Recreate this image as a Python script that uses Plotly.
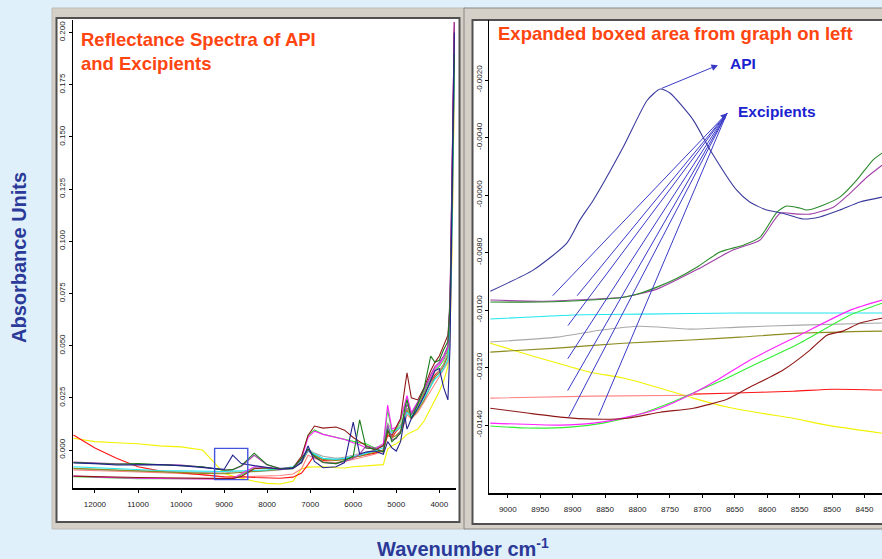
import plotly.graph_objects as go

# ---------------- Left panel data (full spectra) ----------------
left_x = [12500, 12000, 11500, 11000, 10500, 10000, 9500, 9000, 8800, 8600, 8300, 8000,
          7700, 7400, 7200, 7050, 6900, 6700, 6400, 6200, 6000, 5850, 5700, 5500, 5300,
          5200, 5100, 5000, 4900, 4800, 4750, 4650, 4500, 4350, 4200, 4100, 4000, 3900,
          3800, 3750, 3700, 3650]

l_navy = [-0.0062, -0.0065, -0.0072, -0.0072, -0.0070, -0.0075, -0.0085, -0.0093, -0.0025, -0.0065,
          -0.0075, -0.0085, -0.0092, -0.0088, -0.0060, 0.0020, -0.0055, -0.0085, -0.0080, -0.0060,
          0.0134, -0.0020, -0.0010, -0.0005, -0.0020, 0.0040, 0.0010, -0.0005, 0.0040, 0.0160,
          0.0100, 0.0150, 0.0200, 0.0260, 0.0330, 0.0380, 0.0390, 0.0300, 0.0240, 0.0500, 0.1300, 0.2000]
l_dgreen = [-0.0060, -0.0065, -0.0068, -0.0065, -0.0070, -0.0072, -0.0080, -0.0097, -0.0094, -0.0075,
            -0.0015, -0.0070, -0.0090, -0.0085, -0.0040, 0.0005, -0.0030, -0.0060, -0.0065, -0.0050,
            -0.0030, 0.0144, 0.0010, 0.0005, -0.0010, 0.0100, 0.0040, 0.0060, 0.0080, 0.0200,
            0.0240, 0.0150, 0.0220, 0.0300, 0.0450, 0.0420, 0.0430, 0.0480, 0.0520, 0.0700, 0.1200, 0.1900]
l_purple = [-0.0058, -0.0063, -0.0066, -0.0068, -0.0070, -0.0072, -0.0082, -0.0096, -0.0094, -0.0078,
            -0.0025, -0.0072, -0.0088, -0.0085, -0.0045, 0.0000, -0.0035, -0.0060, -0.0065, -0.0055,
            -0.0040, -0.0020, 0.0020, 0.0010, -0.0010, 0.0120, 0.0050, 0.0055, 0.0090, 0.0180,
            0.0220, 0.0170, 0.0230, 0.0290, 0.0360, 0.0400, 0.0420, 0.0450, 0.0500, 0.0750, 0.1400, 0.2050]
l_cyan = [-0.0080, -0.0085, -0.0090, -0.0095, -0.0098, -0.0100, -0.0102, -0.0103, -0.0101, -0.0101,
          -0.0098, -0.0095, -0.0090, -0.0080, -0.0050, -0.0005, -0.0020, -0.0040, -0.0045, -0.0040,
          -0.0030, -0.0025, -0.0015, -0.0005, 0.0010, 0.0110, 0.0080, 0.0095, 0.0110, 0.0150,
          0.0180, 0.0160, 0.0200, 0.0250, 0.0300, 0.0340, 0.0360, 0.0390, 0.0430, 0.0600, 0.1100, 0.1850]
l_gray = [-0.0090, -0.0095, -0.0098, -0.0100, -0.0102, -0.0105, -0.0108, -0.0110, -0.0105, -0.0106,
          -0.0104, -0.0100, -0.0095, -0.0085, -0.0055, 0.0005, -0.0015, -0.0030, -0.0040, -0.0035,
          -0.0025, -0.0020, -0.0010, 0.0000, 0.0020, 0.0130, 0.0090, 0.0100, 0.0120, 0.0170,
          0.0200, 0.0170, 0.0210, 0.0260, 0.0320, 0.0350, 0.0380, 0.0410, 0.0460, 0.0650, 0.1250, 0.1950]
l_olive = [-0.0088, -0.0092, -0.0098, -0.0102, -0.0106, -0.0108, -0.0112, -0.0114, -0.0111, -0.0108,
           -0.0105, -0.0100, -0.0095, -0.0088, -0.0060, -0.0005, -0.0025, -0.0045, -0.0050, -0.0045,
           -0.0035, -0.0030, -0.0020, -0.0010, 0.0000, 0.0090, 0.0060, 0.0070, 0.0090, 0.0140,
           0.0190, 0.0150, 0.0190, 0.0240, 0.0310, 0.0350, 0.0370, 0.0400, 0.0450, 0.0620, 0.1150, 0.1900]
l_yellow = [0.0056, 0.0040, 0.0035, 0.0030, 0.0020, 0.0015, 0.0000, -0.0112, -0.0125, -0.0136,
            -0.0150, -0.0160, -0.0163, -0.0150, -0.0090, -0.0082, -0.0080, -0.0080, -0.0085, -0.0086,
            -0.0080, -0.0078, -0.0076, -0.0072, -0.0070, 0.0005, 0.0020, 0.0030, 0.0045, 0.0065,
            0.0075, 0.0085, 0.0100, 0.0140, 0.0200, 0.0240, 0.0280, 0.0330, 0.0400, 0.0550, 0.1000, 0.1750]
l_salmon = [-0.0095, -0.0100, -0.0102, -0.0105, -0.0108, -0.0112, -0.0118, -0.0130, -0.0130, -0.0129,
            -0.0127, -0.0125, -0.0122, -0.0115, -0.0090, -0.0025, -0.0040, -0.0055, -0.0060, -0.0055,
            -0.0045, -0.0040, -0.0030, -0.0020, -0.0005, 0.0080, 0.0060, 0.0070, 0.0085, 0.0130,
            0.0170, 0.0150, 0.0180, 0.0230, 0.0280, 0.0320, 0.0350, 0.0380, 0.0420, 0.0580, 0.1050, 0.1800]
l_red = [0.0072, 0.0010, -0.0040, -0.0080, -0.0100, -0.0110, -0.0120, -0.0128, -0.0129, -0.0128,
         -0.0132, -0.0135, -0.0135, -0.0130, -0.0110, -0.0070, -0.0025, -0.0050, -0.0048, -0.0045,
         -0.0035, -0.0030, -0.0025, -0.0015, 0.0000, 0.0070, 0.0060, 0.0090, 0.0110, 0.0170,
         0.0200, 0.0170, 0.0210, 0.0270, 0.0320, 0.0360, 0.0380, 0.0410, 0.0460, 0.0650, 0.1250, 0.2000]
l_maroon = [-0.0125, -0.0128, -0.0130, -0.0132, -0.0133, -0.0134, -0.0136, -0.0135, -0.0137, -0.0127,
            -0.0090, -0.0085, -0.0090, -0.0085, -0.0030, 0.0070, 0.0115, 0.0105, 0.0110, 0.0095,
            0.0060, 0.0040, 0.0020, 0.0000, 0.0020, 0.0090, 0.0070, 0.0110, 0.0150, 0.0300,
            0.0370, 0.0250, 0.0240, 0.0300, 0.0380, 0.0420, 0.0450, 0.0500, 0.0550, 0.0700, 0.1300, 0.2050]
l_magenta = [-0.0125, -0.0130, -0.0133, -0.0135, -0.0136, -0.0137, -0.0138, -0.0140, -0.0136, -0.0115,
             -0.0080, -0.0085, -0.0092, -0.0088, -0.0040, 0.0060, 0.0090, 0.0075, 0.0060, 0.0050,
             0.0035, 0.0025, 0.0010, 0.0005, 0.0030, 0.0215, 0.0100, 0.0110, 0.0150, 0.0230,
             0.0260, 0.0180, 0.0230, 0.0290, 0.0350, 0.0390, 0.0410, 0.0440, 0.0490, 0.0700, 0.1350, 0.2050]
l_lime = [-0.0128, -0.0132, -0.0136, -0.0137, -0.0138, -0.0139, -0.0140, -0.0141, -0.0138, -0.0120,
          -0.0085, -0.0088, -0.0093, -0.0090, -0.0035, 0.0070, 0.0096, 0.0075, 0.0060, 0.0048,
          0.0040, 0.0034, 0.0030, 0.0010, 0.0025, 0.0190, 0.0090, 0.0100, 0.0140, 0.0220,
          0.0250, 0.0170, 0.0220, 0.0280, 0.0340, 0.0380, 0.0400, 0.0430, 0.0480, 0.0680, 0.1300, 0.2000]

left_ticks_x = [12000, 11000, 10000, 9000, 8000, 7000, 6000, 5000, 4000]
left_ticks_x_text = ["12000", "11000", "10000", "9000", "8000", "7000", "6000", "5000", "4000"]
left_ticks_y = [0.000, 0.025, 0.050, 0.075, 0.100, 0.125, 0.150, 0.175, 0.200]
left_ticks_y_text = ["0.000", "0.025", "0.050", "0.075", "0.100", "0.125", "0.150", "0.175", "0.200"]

# boxed region (cm-1 and absorbance)
box_x = [9220, 8450]
box_y = [-0.0142, 0.0008]

# ---------------- Right panel data (expanded region) ----------------
r_navy_x = [9027, 8961, 8909, 8889, 8868, 8822, 8785, 8765, 8750, 8714, 8688, 8647, 8627, 8601, 8576, 8545, 8519, 8488, 8457, 8423]
r_navy_y = [-0.00934, -0.00861, -0.00767, -0.00687, -0.00617, -0.00433, -0.00270, -0.00231, -0.00245, -0.00339,
            -0.00443, -0.00583, -0.00624, -0.00652, -0.00663, -0.00683, -0.00676, -0.00652, -0.00624, -0.00607]
r_dgreen_x = [9027, 8950, 8873, 8822, 8796, 8770, 8739, 8708, 8673, 8637, 8611, 8585, 8570, 8550, 8539, 8514, 8488, 8462, 8437, 8423]
r_dgreen_y = [-0.00972, -0.00972, -0.00965, -0.00955, -0.00941, -0.00920, -0.00889, -0.00850, -0.00798, -0.00774,
              -0.00746, -0.00659, -0.00638, -0.00645, -0.00652, -0.00635, -0.00607, -0.00548, -0.00478, -0.00454]
r_purple_x = [9027, 8950, 8873, 8822, 8770, 8704, 8653, 8611, 8580, 8554, 8534, 8498, 8472, 8446, 8423]
r_purple_y = [-0.00965, -0.00969, -0.00962, -0.00955, -0.00927, -0.00854, -0.00791, -0.00756, -0.00663, -0.00666,
              -0.00666, -0.00642, -0.00593, -0.00537, -0.00496]
r_cyan_x = [9027, 8899, 8796, 8642, 8423]
r_cyan_y = [-0.01031, -0.01017, -0.01014, -0.01010, -0.01010]
r_gray_x = [9027, 8924, 8858, 8796, 8719, 8642, 8550, 8423]
r_gray_y = [-0.01111, -0.01094, -0.01070, -0.01056, -0.01066, -0.01059, -0.01052, -0.01045]
r_olive_x = [9027, 8924, 8822, 8719, 8642, 8550, 8423]
r_olive_y = [-0.01146, -0.01132, -0.01115, -0.01104, -0.01094, -0.01080, -0.01073]
r_yellow_x = [9027, 8976, 8924, 8873, 8822, 8770, 8714, 8662, 8611, 8560, 8508, 8423]
r_yellow_y = [-0.01115, -0.01150, -0.01184, -0.01216, -0.01236, -0.01268, -0.01306, -0.01337, -0.01358, -0.01376,
              -0.01400, -0.01428]
r_salmon_x = [9027, 8868, 8714]
r_salmon_y = [-0.01306, -0.01299, -0.01296]
r_red_x = [8714, 8662, 8560, 8498, 8423]
r_red_y = [-0.01292, -0.01289, -0.01282, -0.01275, -0.01278]
r_maroon_x = [9027, 8970, 8919, 8868, 8816, 8765, 8714, 8662, 8627, 8576, 8534, 8508, 8483, 8457, 8423]
r_maroon_y = [-0.01341, -0.01358, -0.01372, -0.01379, -0.01376, -0.01355, -0.01341, -0.01310, -0.01268, -0.01209,
              -0.01139, -0.01087, -0.01073, -0.01045, -0.01028]
r_magenta_x = [9027, 8919, 8868, 8816, 8765, 8714, 8677, 8627, 8550, 8472, 8423]
r_magenta_y = [-0.01393, -0.01400, -0.01393, -0.01372, -0.01341, -0.01289, -0.01243, -0.01174, -0.01087, -0.01000, -0.00965]
r_lime_x = [9027, 8970, 8904, 8853, 8801, 8750, 8704, 8668, 8627, 8550, 8472, 8423]
r_lime_y = [-0.01403, -0.01410, -0.01407, -0.01393, -0.01365, -0.01323, -0.01278, -0.01243, -0.01198, -0.01115,
            -0.01017, -0.00976]

right_ticks_x = [9000, 8950, 8900, 8850, 8800, 8750, 8700, 8650, 8600, 8550, 8500, 8450]
right_ticks_x_text = [str(v) for v in right_ticks_x]
right_ticks_y = [-0.0140, -0.0120, -0.0100, -0.0080, -0.0060, -0.0040, -0.0020]
right_ticks_y_text = ["-0.0140", "-0.0120", "-0.0100", "-0.0080", "-0.0060", "-0.0040", "-0.0020"]

# annotation anchor points (data coords of right panel)
api_arrow_tail = (8765, -0.00231)
api_arrow_tip = (8676, -0.00148)
exc_tip = (8662, -0.00315)
exc_tails = [(8933, -0.00955), (8895, -0.00955), (8909, -0.01059), (8909, -0.01174),
             (8909, -0.01285), (8907, -0.01376), (8861, -0.01372)]

C = {
    "navy": "#22228c", "dgreen": "#1a7a1a", "purple": "#a040a8", "cyan": "#22e6f0",
    "gray": "#a8a8a8", "olive": "#8c8c20", "yellow": "#f2f200", "salmon": "#ff8484",
    "red": "#ff1414", "maroon": "#901818", "magenta": "#ff22ff", "lime": "#33ee33",
}
C_right = dict(C, navy="#3a3a9c", dgreen="#2a8a2a", purple="#a040a8")

W, H = 882, 559


def px(x):
    return x / W


def py(y):
    return 1 - y / H


fig = go.Figure()

left_series = [
    ("yellow", l_yellow), ("salmon", l_salmon), ("red", l_red), ("gray", l_gray),
    ("olive", l_olive), ("cyan", l_cyan), ("lime", l_lime), ("magenta", l_magenta),
    ("maroon", l_maroon), ("purple", l_purple), ("dgreen", l_dgreen), ("navy", l_navy),
]
for name, ys in left_series:
    fig.add_trace(go.Scatter(x=left_x, y=ys, mode="lines", xaxis="x", yaxis="y",
                             line=dict(color=C[name], width=1.1), showlegend=False,
                             hoverinfo="skip"))

right_series = [
    ("yellow", r_yellow_x, r_yellow_y), ("salmon", r_salmon_x, r_salmon_y),
    ("red", r_red_x, r_red_y), ("gray", r_gray_x, r_gray_y), ("olive", r_olive_x, r_olive_y),
    ("cyan", r_cyan_x, r_cyan_y), ("lime", r_lime_x, r_lime_y),
    ("magenta", r_magenta_x, r_magenta_y), ("maroon", r_maroon_x, r_maroon_y),
    ("purple", r_purple_x, r_purple_y), ("dgreen", r_dgreen_x, r_dgreen_y),
    ("navy", r_navy_x, r_navy_y),
]
for name, xs, ys in right_series:
    fig.add_trace(go.Scatter(x=xs, y=ys, mode="lines", xaxis="x2", yaxis="y2",
                             line=dict(color=C_right[name], width=1.1, shape="spline", smoothing=0.6),
                             showlegend=False, hoverinfo="skip"))

frame_gray = "#d4d0c8"
dark = "#505050"
shapes = [
    # left window frame
    dict(type="rect", xref="paper", yref="paper", x0=px(52), x1=px(465), y0=py(529), y1=py(8),
         fillcolor=frame_gray, line=dict(color="#c0bcb4", width=1), layer="below"),
    dict(type="rect", xref="paper", yref="paper", x0=px(56.5), x1=px(459.5), y0=py(522), y1=py(18),
         fillcolor="white", line=dict(color=dark, width=2), layer="below"),
    # right window frame
    dict(type="rect", xref="paper", yref="paper", x0=px(464), x1=px(884), y0=py(529), y1=py(8),
         fillcolor=frame_gray, line=dict(color="#8a8680", width=1), layer="below"),
    dict(type="rect", xref="paper", yref="paper", x0=px(472.5), x1=px(886), y0=py(524), y1=py(20),
         fillcolor="white", line=dict(color=dark, width=2), layer="below"),
    # boxed area on left graph
    dict(type="rect", xref="x", yref="y", x0=box_x[0], x1=box_x[1], y0=box_y[0], y1=box_y[1],
         line=dict(color="#4455dd", width=1.4), fillcolor="rgba(0,0,0,0)", layer="above"),
]

title_col = "#ff4510"
blue_txt = "#1a22d0"
arrow_col = "#3a3ac8"
annotations = [
    dict(xref="paper", yref="paper", x=px(79), y=py(51.5), xanchor="left", yanchor="middle",
         align="left", showarrow=False,
         text="<b>Reflectance Spectra of API<br>and Excipients</b>",
         font=dict(family="Liberation Sans, Arial", size=18.5, color=title_col)),
    dict(xref="paper", yref="paper", x=px(496), y=py(33), xanchor="left", yanchor="middle",
         showarrow=False, text="<b>Expanded boxed area from graph on left</b>",
         font=dict(family="Liberation Sans, Arial", size=18.5, color=title_col)),
    dict(xref="paper", yref="paper", x=px(19), y=py(258), textangle=-90, showarrow=False,
         xanchor="center", yanchor="middle",
         text="<b>Absorbance Units</b>",
         font=dict(family="Liberation Sans, Arial", size=20, color="#2b3a98")),
    dict(xref="paper", yref="paper", x=px(463), y=py(547), showarrow=False,
         xanchor="center", yanchor="middle",
         text="<b>Wavenumber cm<sup>-1</sup></b>",
         font=dict(family="Liberation Sans, Arial", size=20, color="#2b3a98")),
    dict(xref="x2", yref="y2", x=8661, y=-0.00141, xanchor="left", yanchor="middle",
         showarrow=False, text="<b>API</b>",
         font=dict(family="Liberation Sans, Arial", size=15.5, color=blue_txt)),
    dict(xref="x2", yref="y2", x=8648, y=-0.00308, xanchor="left", yanchor="middle",
         showarrow=False, text="<b>Excipients</b>",
         font=dict(family="Liberation Sans, Arial", size=15.5, color=blue_txt)),
    dict(xref="x2", yref="y2", x=api_arrow_tip[0], y=api_arrow_tip[1],
         axref="x2", ayref="y2", ax=api_arrow_tail[0], ay=api_arrow_tail[1],
         text="", showarrow=True, arrowhead=2, arrowsize=1.3, arrowwidth=1,
         arrowcolor=arrow_col, standoff=0, startstandoff=0),
]
for i, (tx, ty) in enumerate(exc_tails):
    annotations.append(dict(xref="x2", yref="y2", x=exc_tip[0], y=exc_tip[1],
                            axref="x2", ayref="y2", ax=tx, ay=ty, text="", showarrow=True,
                            arrowhead=2 if i == 0 else 0, arrowsize=1.3, arrowwidth=1,
                            arrowcolor=arrow_col, standoff=0, startstandoff=0))

tick_font = dict(family="Liberation Sans Narrow, Liberation Sans, Arial", size=8, color="#222222")
common_axis = dict(showgrid=False, zeroline=False, showline=True, linecolor="black",
                   ticks="outside", tickcolor="black", tickfont=tick_font, fixedrange=True)

fig.update_layout(
    width=W, height=H, autosize=False,
    margin=dict(l=0, r=0, t=0, b=0),
    paper_bgcolor="#e0f0fb", plot_bgcolor="rgba(0,0,0,0)",
    showlegend=False,
    shapes=shapes, annotations=annotations,
    xaxis=dict(domain=[px(72.7), px(456)], range=[12517, 3612], anchor="y",
               tickvals=left_ticks_x, ticktext=left_ticks_x_text, ticklen=3, linewidth=2,
               ticklabelstandoff=4, **common_axis),
    yaxis=dict(domain=[py(488), py(20)], range=[-0.0182, 0.206], anchor="x",
               tickvals=left_ticks_y, ticktext=left_ticks_y_text, tickangle=-90,
               ticklen=3, linewidth=1.2, **common_axis),
    xaxis2=dict(domain=[px(489), 1.0], range=[9029, 8423], anchor="y2",
                tickvals=right_ticks_x, ticktext=right_ticks_x_text, ticklen=3, linewidth=2,
                ticklabelstandoff=4, **common_axis),
    yaxis2=dict(domain=[py(493), py(20)], range=[-0.01636, 0.00009], anchor="x2",
                tickvals=right_ticks_y, ticktext=right_ticks_y_text, tickangle=-90,
                ticklen=3, linewidth=1.2, **common_axis),
)

fig.write_html("out.html", config={"displayModeBar": False},
               post_script="document.body.style.margin='0';document.body.style.overflow='hidden';")
